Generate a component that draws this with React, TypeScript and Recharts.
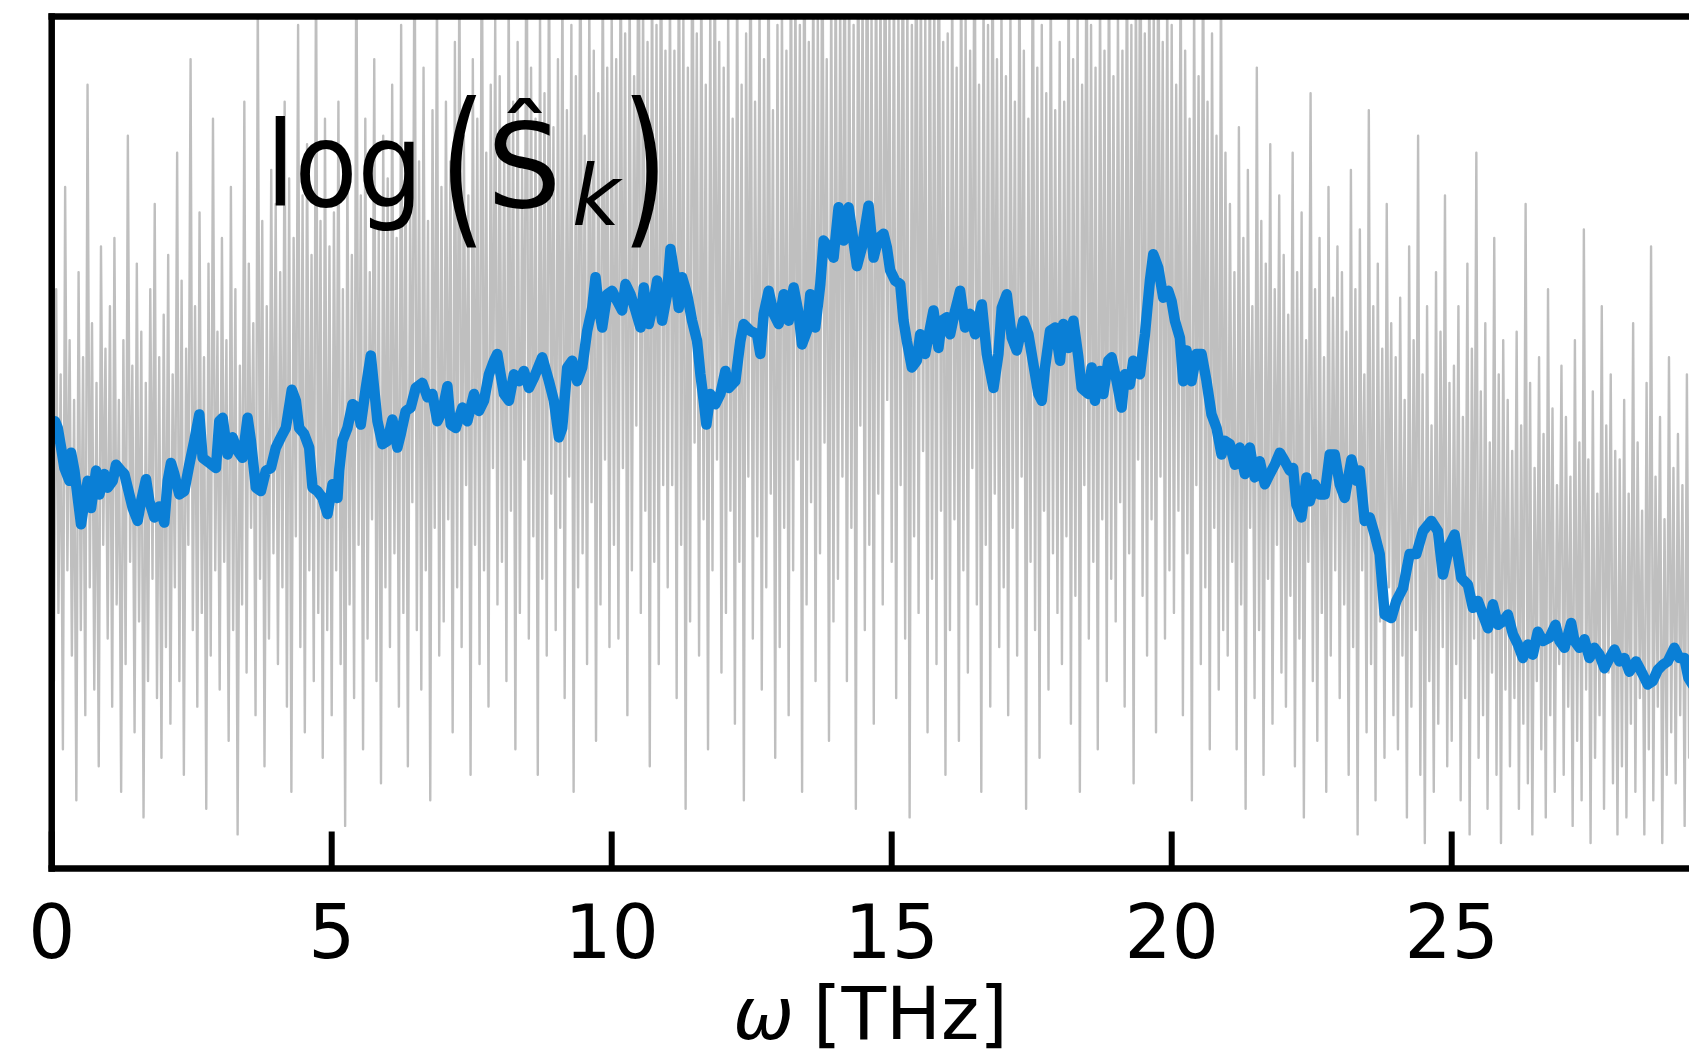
import { LineChart, Line, XAxis, YAxis, ReferenceLine } from 'recharts';

// raw log-periodogram, sampled every GRAY_STEP THz (values in % of plot height)
const GRAY_STEP = 0.04;

const gray0to6 = [
  52, 22, 68, 30, 58, 14, 80, 35, 62, 25, 55, 8, 70, 28, 60, 18, 92, 33, 64, 21, 57, 12, 73, 38, 61,
  27, 66, 19, 74, 31, 55, 9, 62, 24, 86, 36, 59, 16, 71, 29, 63, 6, 57, 22, 68, 34, 78, 20, 60, 13,
  65, 26, 72, 17, 58, 33, 84, 22, 69, 11, 61, 38, 95, 28, 66, 19, 77, 30, 60, 7, 71, 25, 88, 35, 63,
  21, 74, 36, 62, 15, 80, 28, 68, 4, 59, 31, 90, 23, 71, 40, 64, 18, 103, 34, 76, 12, 66, 27, 82, 37,
  78, 24, 70, 33, 90, 19, 81, 9, 74, 39, 99, 26, 79, 16, 85, 35, 72, 22, 108, 30, 76, 13, 88, 28, 73,
  18, 77, 35, 90, 24, 68, 5, 83, 31, 72, 20, 112, 38, 79, 14, 88, 27, 70, 41, 95, 22, 75, 10, 86, 33,
];

const gray6to12 = [
  81, 26, 92, 37, 74, 19, 99, 30, 85, 12, 78, 43, 115, 28, 83, 21, 94, 35, 76, 8, 89, 40, 104, 25, 80,
  29, 90, 41, 83, 16, 97, 33, 108, 26, 86, 45, 79, 11, 95, 38, 88, 24, 118, 35, 84, 19, 92, 47, 100, 31,
  93, 36, 86, 22, 104, 42, 90, 14, 97, 30, 82, 48, 120, 27, 94, 39, 88, 11, 101, 34, 91, 25, 110, 44, 87,
  28, 95, 40, 106, 20, 89, 46, 99, 9, 93, 33, 117, 37, 86, 24, 102, 43, 96, 15, 91, 31, 108, 48, 94, 26,
  101, 38, 95, 27, 112, 47, 98, 18, 106, 35, 93, 52, 125, 30, 103, 42, 97, 12, 110, 36, 99, 24, 118, 45, 96,
  33, 104, 45, 96, 20, 115, 38, 100, 7, 94, 29, 121, 50, 98, 25, 108, 41, 92, 14, 102, 35, 111, 48, 97, 23,
];

const gray12to18 = [
  94, 30, 101, 42, 88, 17, 108, 36, 92, 8, 98, 46, 116, 27, 90, 39, 103, 21, 95, 33, 112, 44, 89, 13, 99,
  26, 102, 40, 96, 18, 114, 35, 105, 48, 99, 9, 122, 31, 97, 43, 108, 22, 101, 37, 118, 50, 95, 15, 106, 29,
  110, 34, 103, 46, 120, 22, 107, 40, 99, 7, 116, 52, 104, 28, 126, 38, 101, 17, 112, 44, 106, 31, 123, 55, 100,
  36, 108, 20, 101, 45, 118, 27, 104, 6, 99, 39, 124, 30, 106, 49, 100, 16, 113, 34, 103, 24, 120, 42, 97, 11,
  98, 28, 106, 41, 94, 15, 112, 35, 100, 23, 96, 47, 121, 31, 92, 9, 104, 38, 99, 19, 115, 44, 95, 26, 102,
  33, 93, 18, 101, 40, 90, 25, 110, 46, 96, 7, 88, 36, 116, 28, 94, 13, 99, 42, 91, 21, 107, 37, 89, 30,
];

const gray18to24 = [
  97, 24, 90, 39, 108, 17, 95, 32, 101, 9, 92, 45, 117, 27, 99, 36, 94, 14, 104, 41, 96, 22, 112, 34, 93,
  29, 101, 43, 96, 19, 113, 37, 99, 10, 106, 48, 122, 32, 98, 25, 109, 41, 102, 16, 119, 46, 97, 27, 104, 35,
  99, 30, 92, 42, 110, 18, 96, 37, 88, 8, 103, 45, 93, 24, 114, 33, 90, 14, 98, 40, 86, 21, 107, 28, 84,
  25, 78, 36, 70, 14, 87, 31, 74, 7, 82, 40, 66, 20, 94, 28, 76, 11, 71, 34, 85, 17, 68, 38, 79, 23,
  72, 19, 65, 32, 84, 12, 70, 27, 77, 6, 62, 36, 91, 22, 68, 15, 74, 30, 60, 9, 80, 25, 67, 35, 73,
  20, 70, 31, 63, 11, 82, 26, 68, 4, 75, 35, 58, 16, 89, 24, 66, 8, 71, 29, 61, 13, 78, 33, 64, 18,
];

const gray24to30 = [
  60, 14, 67, 25, 55, 6, 73, 19, 62, 28, 86, 11, 58, 3, 66, 22, 52, 9, 70, 17, 63, 26, 79, 12, 57,
  15, 59, 24, 66, 8, 53, 20, 71, 4, 61, 27, 84, 13, 56, 18, 64, 7, 50, 23, 74, 11, 58, 3, 62, 21,
  55, 12, 49, 20, 63, 7, 52, 17, 78, 10, 57, 4, 47, 22, 60, 14, 51, 6, 68, 18, 54, 9, 45, 24, 59,
  11, 53, 19, 46, 5, 62, 15, 50, 8, 75, 21, 48, 3, 56, 13, 44, 18, 66, 7, 52, 23, 58, 10, 49, 4,
  48, 12, 55, 6, 44, 17, 64, 9, 50, 20, 42, 4, 57, 14, 73, 8, 46, 19, 53, 3, 41, 11, 60, 16, 47,
  10, 51, 18, 45, 5, 58, 13, 49,
];

// smoothed spectrum, [frequency THz, level]
const smoothed0to7: [number, number][] = [
  [0.06, 52.5], [0.108, 51.7], [0.168, 49.4], [0.227, 47.0], [0.316, 45.5], [0.346, 48.8], [0.406, 46.7],
  [0.465, 43.5], [0.524, 40.4], [0.584, 43.1], [0.643, 45.5], [0.703, 42.3], [0.792, 46.7], [0.851, 43.9],
  [0.941, 46.3], [1.0, 44.7], [1.089, 45.5], [1.149, 47.4], [1.238, 46.7], [1.298, 46.3], [1.387, 43.9],
  [1.446, 42.3], [1.535, 40.8], [1.595, 43.1], [1.684, 45.7], [1.744, 43.1], [1.833, 41.2], [1.922, 42.5],
  [2.011, 40.6], [2.071, 45.5], [2.13, 47.6], [2.189, 46.3], [2.279, 43.9], [2.368, 44.3], [2.457, 47.4],
  [2.546, 50.2], [2.636, 53.3], [2.695, 48.2], [2.814, 47.6], [2.933, 47.0], [2.993, 52.5], [3.052, 52.9],
  [3.141, 48.6], [3.23, 50.6], [3.319, 49.0], [3.408, 48.2], [3.498, 52.9], [3.557, 50.2], [3.646, 44.7],
  [3.736, 44.3], [3.825, 46.7], [3.914, 47.0], [4.003, 49.4], [4.092, 50.6], [4.181, 51.7], [4.288, 56.2],
  [4.36, 54.9], [4.419, 51.7], [4.508, 51.0], [4.598, 49.4], [4.657, 44.7], [4.746, 44.3], [4.835, 43.5],
  [4.925, 41.6], [5.014, 45.1], [5.103, 43.5], [5.133, 46.7], [5.192, 50.2], [5.281, 51.7], [5.371, 54.5],
  [5.46, 54.1], [5.519, 52.1], [5.609, 56.4], [5.698, 60.2], [5.757, 56.4], [5.817, 52.5], [5.906, 49.8],
  [5.995, 50.2], [6.084, 52.7], [6.173, 49.4], [6.233, 51.0], [6.322, 53.7], [6.411, 54.1], [6.5, 56.4],
  [6.619, 57.0], [6.709, 55.3], [6.798, 55.7], [6.887, 52.5], [6.976, 53.7],
];

const smoothed7to15: [number, number][] = [
  [7.066, 56.6], [7.125, 52.1], [7.214, 51.7], [7.333, 54.1], [7.422, 52.5], [7.541, 55.7], [7.63, 53.7],
  [7.719, 54.9], [7.808, 58.0], [7.897, 59.6], [7.957, 60.4], [8.016, 58.0], [8.076, 55.7], [8.165, 54.9],
  [8.254, 58.0], [8.343, 57.2], [8.433, 58.4], [8.522, 56.4], [8.611, 57.6], [8.76, 60.0], [8.879, 57.2],
  [8.968, 54.9], [9.057, 50.6], [9.116, 51.7], [9.206, 58.8], [9.295, 59.6], [9.384, 57.2], [9.473, 58.8],
  [9.562, 63.1], [9.652, 65.8], [9.711, 69.4], [9.771, 65.8], [9.83, 63.5], [9.919, 67.4], [10.008, 67.8],
  [10.098, 66.6], [10.187, 65.5], [10.246, 68.6], [10.335, 67.4], [10.425, 65.5], [10.514, 63.5],
  [10.573, 68.2], [10.662, 63.9], [10.752, 66.6], [10.811, 69.0], [10.9, 64.3], [10.989, 67.4],
  [11.049, 72.7], [11.138, 69.0], [11.197, 65.8], [11.257, 69.4], [11.346, 67.4], [11.435, 64.3],
  [11.525, 61.9], [11.584, 58.0], [11.643, 54.9], [11.691, 52.1], [11.762, 55.7], [11.851, 54.5],
  [11.941, 55.7], [12.03, 58.4], [12.089, 56.4], [12.208, 57.2], [12.297, 61.9], [12.357, 63.9],
  [12.476, 63.1], [12.595, 62.7], [12.654, 60.4], [12.714, 65.1], [12.803, 67.8], [12.892, 65.1],
  [12.981, 63.9], [13.071, 67.4], [13.16, 64.3], [13.249, 68.2], [13.338, 65.1], [13.398, 61.5],
  [13.487, 63.1], [13.546, 67.4], [13.635, 63.5], [13.725, 68.6], [13.784, 73.7], [13.873, 72.9],
  [13.962, 71.7], [14.052, 77.6], [14.141, 73.7], [14.23, 77.6], [14.29, 74.9], [14.379, 70.7],
  [14.468, 72.9], [14.587, 77.8], [14.676, 71.7], [14.765, 74.0], [14.854, 74.5], [14.914, 72.9],
  [14.973, 70.2],
];

const smoothed15to22: [number, number][] = [
  [15.062, 69.0], [15.152, 68.6], [15.211, 64.3], [15.271, 61.9], [15.36, 58.8], [15.449, 59.6],
  [15.508, 62.7], [15.598, 60.4], [15.687, 63.5], [15.746, 65.5], [15.835, 61.1], [15.895, 64.3],
  [15.984, 64.7], [16.044, 62.7], [16.133, 65.5], [16.222, 67.8], [16.311, 63.5], [16.4, 65.1],
  [16.49, 62.7], [16.609, 66.2], [16.698, 60.4], [16.817, 56.4], [16.906, 60.4], [16.965, 65.8],
  [17.055, 67.4], [17.144, 62.3], [17.233, 60.8], [17.351, 64.3], [17.441, 62.7], [17.53, 59.2],
  [17.619, 55.7], [17.679, 54.9], [17.738, 58.8], [17.827, 63.1], [17.916, 63.5], [18.006, 59.6],
  [18.065, 63.9], [18.154, 61.1], [18.244, 64.3], [18.333, 60.0], [18.392, 56.4], [18.511, 55.7],
  [18.571, 58.8], [18.63, 54.9], [18.719, 58.4], [18.779, 55.7], [18.868, 59.6], [18.927, 60.0],
  [19.017, 57.2], [19.106, 54.1], [19.165, 58.0], [19.254, 56.8], [19.314, 59.6], [19.433, 58.0],
  [19.522, 62.7], [19.611, 69.0], [19.671, 72.1], [19.76, 70.5], [19.849, 67.0], [19.938, 67.8],
  [19.998, 66.6], [20.057, 64.3], [20.146, 62.3], [20.206, 57.2], [20.265, 60.8], [20.355, 57.2],
  [20.444, 60.4], [20.533, 60.4], [20.622, 57.2], [20.711, 53.3], [20.801, 51.7], [20.89, 48.6],
  [20.949, 50.2], [21.038, 49.8], [21.128, 47.4], [21.217, 49.4], [21.306, 46.3], [21.395, 49.4],
  [21.484, 45.9], [21.574, 47.8], [21.663, 45.1], [21.752, 46.3], [21.841, 47.4], [21.93, 48.8],
];

const smoothed22to30: [number, number][] = [
  [22.019, 47.8], [22.108, 46.7], [22.168, 47.0], [22.227, 42.7], [22.316, 41.2], [22.406, 45.9],
  [22.465, 43.1], [22.554, 45.1], [22.644, 43.9], [22.733, 43.9], [22.822, 48.6], [22.911, 48.6],
  [23.0, 45.1], [23.09, 43.5], [23.209, 48.0], [23.298, 45.5], [23.357, 46.7], [23.447, 40.8],
  [23.536, 41.2], [23.625, 39.2], [23.714, 36.9], [23.803, 29.8], [23.922, 29.4], [24.011, 31.4],
  [24.13, 32.9], [24.249, 36.9], [24.368, 36.9], [24.487, 39.6], [24.636, 40.8], [24.754, 39.6],
  [24.844, 34.5], [24.963, 38.0], [25.052, 39.2], [25.171, 34.1], [25.29, 33.3], [25.379, 30.6],
  [25.468, 31.4], [25.557, 29.8], [25.647, 28.2], [25.736, 31.0], [25.825, 28.6], [25.914, 29.0],
  [26.003, 29.8], [26.093, 27.5], [26.182, 26.3], [26.271, 24.7], [26.36, 26.3], [26.449, 25.1],
  [26.538, 27.8], [26.627, 26.7], [26.747, 27.1], [26.853, 28.6], [26.925, 26.7], [27.014, 25.9],
  [27.133, 28.8], [27.192, 26.7], [27.281, 25.9], [27.371, 26.9], [27.46, 24.7], [27.549, 25.9],
  [27.638, 25.1], [27.727, 23.5], [27.817, 24.7], [27.906, 25.7], [27.995, 24.3], [28.084, 24.7],
  [28.173, 23.1], [28.292, 24.3], [28.411, 22.8], [28.5, 21.6], [28.59, 22.0], [28.679, 23.3],
  [28.768, 23.9], [28.857, 24.3], [28.976, 25.9], [29.065, 24.7], [29.154, 24.7], [29.226, 22.4],
  [29.3, 21.6],
];

const freqTicks = [0, 5, 10, 15, 20, 25];

const graySegments: [number, number[]][] = [
  [0, gray0to6],
  [6, gray6to12],
  [12, gray12to18],
  [18, gray18to24],
  [24, gray24to30],
];

const rawSpectrum = graySegments.flatMap(([start, vals]) =>
  vals.map((v, i) => ({ f: +(start + i * GRAY_STEP).toFixed(2), v })),
);

const smoothedSpectrum = [...smoothed0to7, ...smoothed7to15, ...smoothed15to22, ...smoothed22to30].map(
  ([f, v]) => ({ f, v }),
);

const FONT = 'DejaVu Sans';
const AXIS_Y = 868.5;

function FreqTick(props: any) {
  const { x, payload } = props;
  return (
    <g>
      <line x1={x} x2={x} y1={AXIS_Y} y2={AXIS_Y - 37} stroke="#000" strokeWidth={6} />
      <text x={x} y={958} textAnchor="middle" fontSize={74} fontFamily={FONT} fill="#000">
        {payload.value}
      </text>
    </g>
  );
}

export default function App() {
  return (
    <div
      style={{
        position: 'absolute',
        left: 0,
        top: 0,
        width: 1689,
        height: 1057,
        overflow: 'hidden',
        background: '#fff',
      }}
    >
      <LineChart width={1700} height={1057} margin={{ top: 16.5, right: 7.5, bottom: 0, left: 51.7 }}>
        <Line
          data={rawSpectrum}
          dataKey="v"
          type="linear"
          stroke="#bfbfbf"
          strokeWidth={2.4}
          strokeLinejoin="round"
          dot={false}
          activeDot={false}
          isAnimationActive={false}
        />
        <Line
          data={smoothedSpectrum}
          dataKey="v"
          type="linear"
          stroke="#0a7fd6"
          strokeWidth={10.5}
          strokeLinejoin="round"
          strokeLinecap="round"
          dot={false}
          activeDot={false}
          isAnimationActive={false}
        />
        <ReferenceLine y={100} stroke="#000" strokeWidth={6.5} strokeLinecap="square" />
        <ReferenceLine x={0} stroke="#000" strokeWidth={6.5} strokeLinecap="square" />
        <XAxis
          type="number"
          dataKey="f"
          domain={[0, 29.3]}
          allowDataOverflow
          ticks={freqTicks}
          interval={0}
          height={188.5}
          tickLine={false}
          axisLine={{ stroke: '#000', strokeWidth: 6.5, strokeLinecap: 'square' }}
          tick={(p: any) => <FreqTick {...p} />}
        />
        <YAxis type="number" domain={[0, 100]} allowDataOverflow hide />
      </LineChart>
      <svg
        width={1689}
        height={1057}
        style={{ position: 'absolute', left: 0, top: 0, pointerEvents: 'none' }}
        fontFamily={FONT}
        fill="#000"
      >
        <text transform="translate(266 206) scale(0.88 1)" fontSize={117}>
          log
        </text>
        <text transform="translate(440 224.5) scale(1 1.46)" fontSize={117}>
          (
        </text>
        <text x={487} y={206.5} fontSize={117}>
          Ŝ
        </text>
        <text x={572} y={225} fontSize={83} fontStyle="italic">
          k
        </text>
        <text transform="translate(622 224.5) scale(1 1.46)" fontSize={117}>
          )
        </text>
        <text x={733} y={1039} fontSize={73} fontStyle="italic">
          ω
        </text>
        <text x={813} y={1039} fontSize={73}>
          [THz]
        </text>
      </svg>
    </div>
  );
}
